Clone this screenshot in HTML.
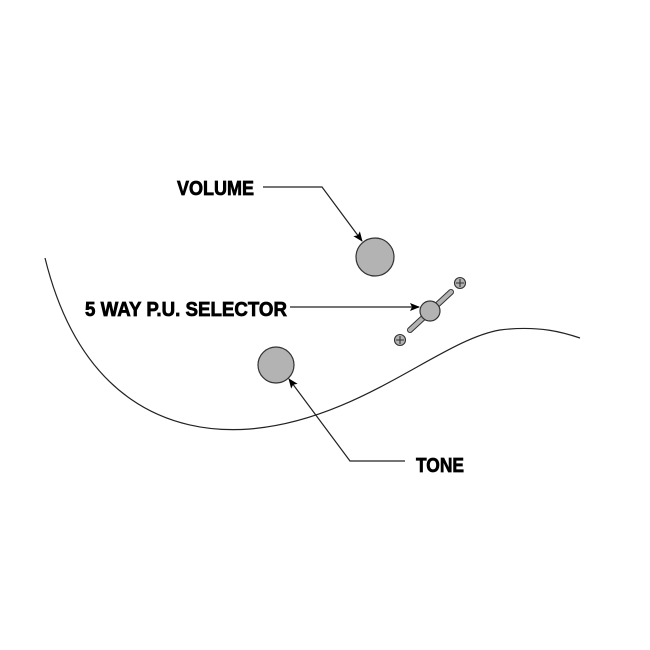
<!DOCTYPE html>
<html><head><style>body{margin:0;background:#fff}svg{display:block}</style></head><body>
<svg width="650" height="650" viewBox="0 0 650 650" xmlns="http://www.w3.org/2000/svg">
<defs><marker id="a" markerWidth="10" markerHeight="8" refX="9" refY="4" orient="auto" markerUnits="userSpaceOnUse"><path d="M0,0 L10,4 L0,8 L2,4 Z" fill="#000"/></marker></defs>
<path d="M45,258 C80,400 170,435 250,429 C360,420 440,340 500,330 C540,325 565,333 580,338" fill="none" stroke="#222" stroke-width="1.2"/>
<g font-family="Liberation Sans Narrow, Liberation Sans, sans-serif" font-weight="bold" font-size="20" fill="#000" stroke="#000" stroke-width="0.7">
<text x="177" y="195" textLength="77" lengthAdjust="spacingAndGlyphs">VOLUME</text>
<text x="85" y="316" textLength="202" lengthAdjust="spacingAndGlyphs">5 WAY P.U. SELECTOR</text>
<text x="416" y="472" textLength="48" lengthAdjust="spacingAndGlyphs">TONE</text>
</g>
<g stroke="#222" stroke-width="1.2" fill="none">
<polyline points="263,187 322,187 362,241" marker-end="url(#a)"/>
<line x1="290" y1="307" x2="419" y2="307" marker-end="url(#a)"/>
<polyline points="405,461 350,461 289,379" marker-end="url(#a)"/>
</g>
<circle cx="375" cy="257" r="19" fill="#b3b3b3" stroke="#333" stroke-width="1.2"/>
<circle cx="276" cy="365" r="18" fill="#b3b3b3" stroke="#333" stroke-width="1.2"/>
<line x1="410" y1="330" x2="451" y2="292" stroke="#333" stroke-width="6" stroke-linecap="round"/>
<line x1="410" y1="330" x2="451" y2="292" stroke="#b3b3b3" stroke-width="4" stroke-linecap="round"/>
<circle cx="430" cy="311" r="10" fill="#b3b3b3" stroke="#333" stroke-width="1.2"/>
<g stroke="#333" stroke-width="1.1" fill="#b3b3b3">
<circle cx="460" cy="283" r="5.5"/><path d="M456,283h8M460,279v8"/>
<circle cx="400" cy="340" r="5.5"/><path d="M396,340h8M400,336v8"/>
</g>
</svg>
</body></html>
